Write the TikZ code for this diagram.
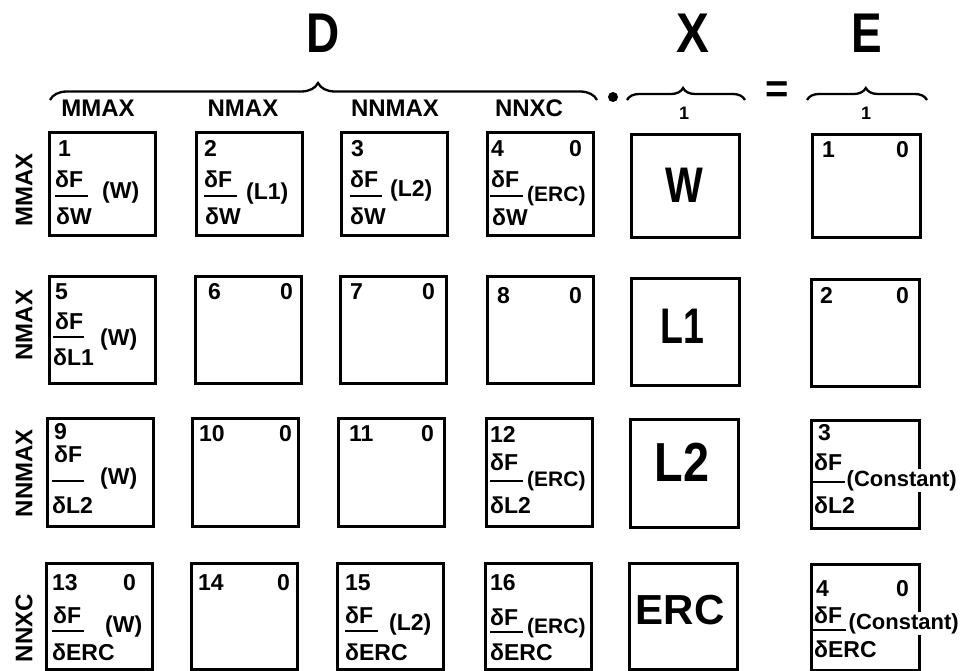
\documentclass[tikz,border=0pt]{standalone}
\usepackage{fontspec}
\usepackage{graphicx}
\setmainfont{Liberation Sans}
\usetikzlibrary{decorations.pathreplacing}
\begin{document}
\begin{tikzpicture}[x=1pt,y=-1pt,
  cell/.style={draw, line width=2.8pt, anchor=north west, inner sep=0pt, minimum width=106pt},
  txt/.style={anchor=base west, inner sep=0pt, font=\fontsize{23}{26}\selectfont\bfseries},
  txtr/.style={anchor=base east, inner sep=0pt, font=\fontsize{23}{26}\selectfont\bfseries},
  sml/.style={anchor=base west, inner sep=0pt, font=\fontsize{21}{24}\selectfont\bfseries},
  cst/.style={anchor=base west, inner sep=1.5pt, fill=white, font=\fontsize{22}{24}\selectfont\bfseries},
  bar/.style={line width=2.6pt},
  big/.style={inner sep=0pt, font=\fontsize{50}{56}\selectfont\bfseries},
  hdr/.style={inner sep=0pt, font=\fontsize{56}{60}\selectfont\bfseries},
  collab/.style={anchor=base, inner sep=0pt, font=\fontsize{24}{26}\selectfont\bfseries},
  rowlab/.style={rotate=90, inner sep=0pt, font=\fontsize{24}{26}\selectfont\bfseries},
  brc/.style={decorate, line width=2.3pt},
  one/.style={inner sep=0pt, font=\fontsize{18}{20}\selectfont\bfseries}
]
\useasboundingbox (0,0) rectangle (967,671);

% headers
\node[hdr] (hD) at (323,33) {\scalebox{0.82}[1]{D}};
\node[hdr] (hX) at (693,33) {\scalebox{0.88}[1]{X}};
\node[hdr] (hE) at (867,33) {\scalebox{0.82}[1]{E}};

% braces
\coordinate (Dl) at (50,100); \coordinate (Dr) at (597,100);
\coordinate (Xl) at (627,100); \coordinate (Xr) at (745,100);
\coordinate (El) at (807,100); \coordinate (Er) at (927,100);
\draw[brc, decoration={brace, amplitude=17pt, aspect=0.49}] (Dl) -- (Dr);
\draw[brc, decoration={brace, amplitude=12pt, aspect=0.475}] (Xl) -- (Xr);
\draw[brc, decoration={brace, amplitude=12pt, aspect=0.49}] (El) -- (Er);
\node[one] (oX) at (684,113) {1};
\node[one] (oE) at (866,113) {1};
\node[circle, fill=black, inner sep=0pt, minimum size=10pt] (dot) at (613,97) {};
\node[inner sep=0pt, font=\fontsize{40}{44}\selectfont\bfseries] (eq) at (777,92) {=};

% column labels
\node[collab] (cMM) at (98,117) {MMAX};
\node[collab] (cNM) at (243,117) {NMAX};
\node[collab] (cNN) at (395,117) {NNMAX};
\node[collab] (cNX) at (529,117) {NNXC};

% row labels
\node[rowlab] (rMM) at (24,190) {MMAX};
\node[rowlab] (rNM) at (24,325) {NMAX};
\node[rowlab] (rNN) at (24,473) {NNMAX};
\node[rowlab] (rNX) at (24,628) {NNXC};

% boxes row 1
\node[cell, minimum height=103pt] (b1) at (48,131) {};
\node[cell, minimum height=103pt] (b2) at (195,131) {};
\node[cell, minimum height=103pt] (b3) at (340,131) {};
\node[cell, minimum height=103pt] (b4) at (486,131) {};
\node[cell, minimum height=103pt, minimum width=108pt] (x1) at (630,133) {};
\node[cell, minimum height=103pt, minimum width=108pt] (e1) at (811,133) {};
% row 2
\node[cell, minimum height=107pt] (b5) at (48,275) {};
\node[cell, minimum height=107pt] (b6) at (194,275) {};
\node[cell, minimum height=107pt] (b7) at (339,275) {};
\node[cell, minimum height=107pt] (b8) at (486,275) {};
\node[cell, minimum height=107pt, minimum width=108pt] (x2) at (630,277) {};
\node[cell, minimum height=107pt, minimum width=108pt] (e2) at (810,278) {};
% row 3
\node[cell, minimum height=108pt] (b9) at (46,417) {};
\node[cell, minimum height=108pt] (b10) at (191,417) {};
\node[cell, minimum height=108pt] (b11) at (337,417) {};
\node[cell, minimum height=108pt] (b12) at (485,417) {};
\node[cell, minimum height=108pt, minimum width=108pt] (x3) at (629,418) {};
\node[cell, minimum height=108pt, minimum width=108pt] (e3) at (810,419) {};
% row 4
\node[cell, minimum height=106pt] (b13) at (45,562) {};
\node[cell, minimum height=106pt] (b14) at (190,562) {};
\node[cell, minimum height=106pt] (b15) at (336,562) {};
\node[cell, minimum height=106pt] (b16) at (484,562) {};
\node[cell, minimum height=106pt, minimum width=108pt] (x4) at (628,562) {};
\node[cell, minimum height=106pt, minimum width=108pt] (e4) at (810,563) {};

% X column letters
\node[big] (tW) at (684,185) {\scalebox{0.8}[1]{W}};
\node[big] (tL1) at (682,326) {\scalebox{0.75}[1]{L1}};
\node[big, font=\fontsize{55}{60}\selectfont\bfseries] (tL2) at (682,462) {\scalebox{0.85}[1]{L2}};
\node[big, font=\fontsize{42}{48}\selectfont\bfseries] (tERC) at (680,610) {ERC};

% box 1
\node[txt] (n1) at (58,157) {1};
\node[txt] (f1a) at (55,188) {δF};
\draw[bar] (55,196) -- (88,196);
\node[txt] (f1b) at (56,225) {δW};
\node[txt] (f1c) at (102,199) {(W)};
% box 2
\node[txt] (n2) at (204,157) {2};
\node[txt] (f2a) at (204,188) {δF};
\draw[bar] (204,196) -- (237,196);
\node[txt] (f2b) at (205,225) {δW};
\node[txt] (f2c) at (246,200) {(L1)};
% box 3
\node[txt] (n3) at (351,157) {3};
\node[txt] (f3a) at (350,188) {δF};
\draw[bar] (350,196) -- (382,196);
\node[txt] (f3b) at (350,225) {δW};
\node[txt] (f3c) at (390,197) {(L2)};
% box 4
\node[txt] (n4) at (491,157) {4};
\node[txtr] (z4) at (582,157) {0};
\node[txt] (f4a) at (491,188) {δF};
\draw[bar] (490,196) -- (523,196);
\node[txt] (f4b) at (492,226) {δW};
\node[sml] (f4c) at (527,202) {(ERC)};
% box 5
\node[txt] (n5) at (55,300) {5};
\node[txt] (f5a) at (55,330) {δF};
\draw[bar] (53,337) -- (84,337);
\node[txt] (f5b) at (53,365) {δL1};
\node[txt] (f5c) at (100,345) {(W)};
% box 6,7,8
\node[txt] (n6) at (208,300) {6};
\node[txtr] (z6) at (293,300) {0};
\node[txt] (n7) at (350,300) {7};
\node[txtr] (z7) at (435,300) {0};
\node[txt] (n8) at (497,303) {8};
\node[txtr] (z8) at (582,303) {0};
% box 9
\node[txt] (n9) at (54,439) {9};
\node[txt] (f9a) at (54,462) {δF};
\draw[bar] (52,481) -- (84,481);
\node[txt] (f9b) at (52,513) {δL2};
\node[txt] (f9c) at (100,484) {(W)};
% box 10, 11
\node[txt] (n10) at (199,441) {10};
\node[txtr] (z10) at (292,441) {0};
\node[txt] (n11) at (349,441) {11};
\node[txtr] (z11) at (434,441) {0};
% box 12
\node[txt] (n12) at (490,442) {12};
\node[txt] (f12a) at (490,470) {δF};
\draw[bar] (490,481) -- (523,481);
\node[txt] (f12b) at (490,513) {δL2};
\node[sml] (f12c) at (527,486) {(ERC)};
% box 13
\node[txt] (n13) at (52,590) {13};
\node[txtr] (z13) at (136,590) {0};
\node[txt] (f13a) at (53,623) {δF};
\draw[bar] (52,631) -- (84,631);
\node[txt] (f13b) at (52,660) {δERC};
\node[txt] (f13c) at (105,632) {(W)};
% box 14
\node[txt] (n14) at (198,590) {14};
\node[txtr] (z14) at (290,590) {0};
% box 15
\node[txt] (n15) at (345,590) {15};
\node[txt] (f15a) at (345,623) {δF};
\draw[bar] (345,631) -- (378,631);
\node[txt] (f15b) at (345,660) {δERC};
\node[txt] (f15c) at (389,630) {(L2)};
% box 16
\node[txt] (n16) at (490,590) {16};
\node[txt] (f16a) at (490,625) {δF};
\draw[bar] (490,632) -- (523,632);
\node[txt] (f16b) at (490,660) {δERC};
\node[sml] (f16c) at (527,633) {(ERC)};

% E column
\node[txt] (m1) at (822,158) {1};
\node[txtr] (y1) at (909,158) {0};
\node[txt] (m2) at (820,304) {2};
\node[txtr] (y2) at (909,304) {0};
\node[txt] (m3) at (818,440) {3};
\node[txt] (g3a) at (814,470) {δF};
\draw[bar] (813,482) -- (845,482);
\node[txt] (g3b) at (814,513) {δL2};
\node[cst] (g3c) at (845,486) {(Constant)};
\node[txt] (m4) at (816,596) {4};
\node[txtr] (y4) at (909,596) {0};
\node[txt] (g4a) at (814,623) {δF};
\draw[bar] (813,630) -- (846,630);
\node[txt] (g4b) at (814,657) {δERC};
\node[cst] (g4c) at (847,629) {(Constant)};
\end{tikzpicture}
\end{document}
